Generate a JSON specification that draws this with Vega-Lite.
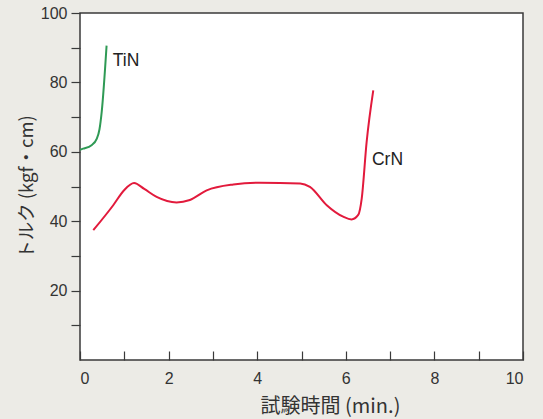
{
  "$schema": "https://vega.github.io/schema/vega-lite/v6.json",
  "autosize": {"type": "none"},
  "width": 443,
  "height": 347,
  "padding": {"left": 80, "top": 13, "right": 20, "bottom": 59},
  "background": "#ecebe6",
  "title": {
    "text": "ラップ試験・TiN比較摩耗試験（ピン・オン・ディスク）結果",
    "anchor": "start",
    "frame": "group",
    "dx": -85,
    "dy": -2,
    "offset": 4,
    "fontSize": 18,
    "fontWeight": "bold",
    "font": "Noto Sans CJK JP",
    "color": "#3a55c8"
  },
  "config": {
    "view": {"fill": "white", "stroke": "#3a3a3a", "strokeWidth": 1.5},
    "axis": {
      "grid": false,
      "domain": false,
      "labelFont": "Liberation Sans",
      "labelFontSize": 16,
      "labelColor": "#333333",
      "labelOverlap": false,
      "tickColor": "#3a3a3a",
      "tickWidth": 1.2,
      "titleFont": "Noto Sans CJK JP",
      "titleFontWeight": "normal",
      "titleColor": "#333333"
    }
  },
  "datasets": {
    "curves": [
      {"coating": "TiN", "t": 0.0, "torque": 60.6},
      {"coating": "TiN", "t": 0.07, "torque": 60.9},
      {"coating": "TiN", "t": 0.26, "torque": 61.9},
      {"coating": "TiN", "t": 0.38, "torque": 63.8},
      {"coating": "TiN", "t": 0.44, "torque": 66.5},
      {"coating": "TiN", "t": 0.49, "torque": 71.5},
      {"coating": "TiN", "t": 0.6, "torque": 90.6},
      {"coating": "CrN", "t": 0.3, "torque": 37.4},
      {"coating": "CrN", "t": 0.75, "torque": 44.6},
      {"coating": "CrN", "t": 1.0, "torque": 49.0},
      {"coating": "CrN", "t": 1.22, "torque": 51.0},
      {"coating": "CrN", "t": 1.45, "torque": 49.3},
      {"coating": "CrN", "t": 1.73, "torque": 47.0},
      {"coating": "CrN", "t": 2.18, "torque": 45.4},
      {"coating": "CrN", "t": 2.48, "torque": 46.1},
      {"coating": "CrN", "t": 2.86, "torque": 48.9},
      {"coating": "CrN", "t": 3.46, "torque": 50.6},
      {"coating": "CrN", "t": 4.06, "torque": 51.1},
      {"coating": "CrN", "t": 4.97, "torque": 50.9},
      {"coating": "CrN", "t": 5.19, "torque": 49.9},
      {"coating": "CrN", "t": 5.57, "torque": 44.6},
      {"coating": "CrN", "t": 5.94, "torque": 41.3},
      {"coating": "CrN", "t": 6.13, "torque": 40.5},
      {"coating": "CrN", "t": 6.28, "torque": 41.8},
      {"coating": "CrN", "t": 6.36, "torque": 46.6},
      {"coating": "CrN", "t": 6.47, "torque": 62.8},
      {"coating": "CrN", "t": 6.62, "torque": 77.7}
    ],
    "labels": [
      {"name": "TiN", "t": 0.74, "torque": 86.2},
      {"name": "CrN", "t": 6.59, "torque": 57.5}
    ]
  },
  "resolve": {"axis": {"y": "independent"}},
  "layer": [
    {
      "data": {"name": "curves"},
      "mark": {"type": "line", "strokeWidth": 2, "interpolate": "monotone"},
      "encoding": {
        "x": {
          "field": "t",
          "type": "quantitative",
          "scale": {"domain": [0, 10], "nice": false},
          "axis": {
            "title": "試験時間 (min.)",
            "titleFontSize": 20,
            "values": [0, 1, 2, 3, 4, 5, 6, 7, 8, 9, 10],
            "labelExpr": "datum.value % 2 == 0 ? datum.label : ''",
            "tickSize": -9,
            "labelPadding": 19,
            "titlePadding": 10,
            "titleX": 250
          }
        },
        "y": {
          "field": "torque",
          "type": "quantitative",
          "scale": {"domain": [0, 100], "nice": false},
          "axis": {
            "orient": "left",
            "title": "トルク (kgf・cm)",
            "titleFontSize": 18.5,
            "values": [20, 40, 60, 80, 100],
            "tickSize": 9,
            "labelPadding": 4,
            "titlePadding": 4
          }
        },
        "color": {
          "field": "coating",
          "type": "nominal",
          "scale": {"domain": ["TiN", "CrN"], "range": ["#2f9a55", "#e21a3c"]},
          "legend": null
        },
        "detail": {"field": "coating"}
      }
    },
    {
      "data": {"name": "labels"},
      "mark": {"type": "text", "align": "left", "baseline": "middle", "font": "Liberation Sans", "fontSize": 17.5, "color": "#222222"},
      "encoding": {
        "x": {"field": "t", "type": "quantitative"},
        "y": {
          "field": "torque",
          "type": "quantitative",
          "axis": {
            "orient": "left",
            "title": null,
            "values": [10, 30, 50, 70, 90],
            "labels": false,
            "tickSize": 9
          }
        },
        "text": {"field": "name"}
      }
    }
  ]
}
